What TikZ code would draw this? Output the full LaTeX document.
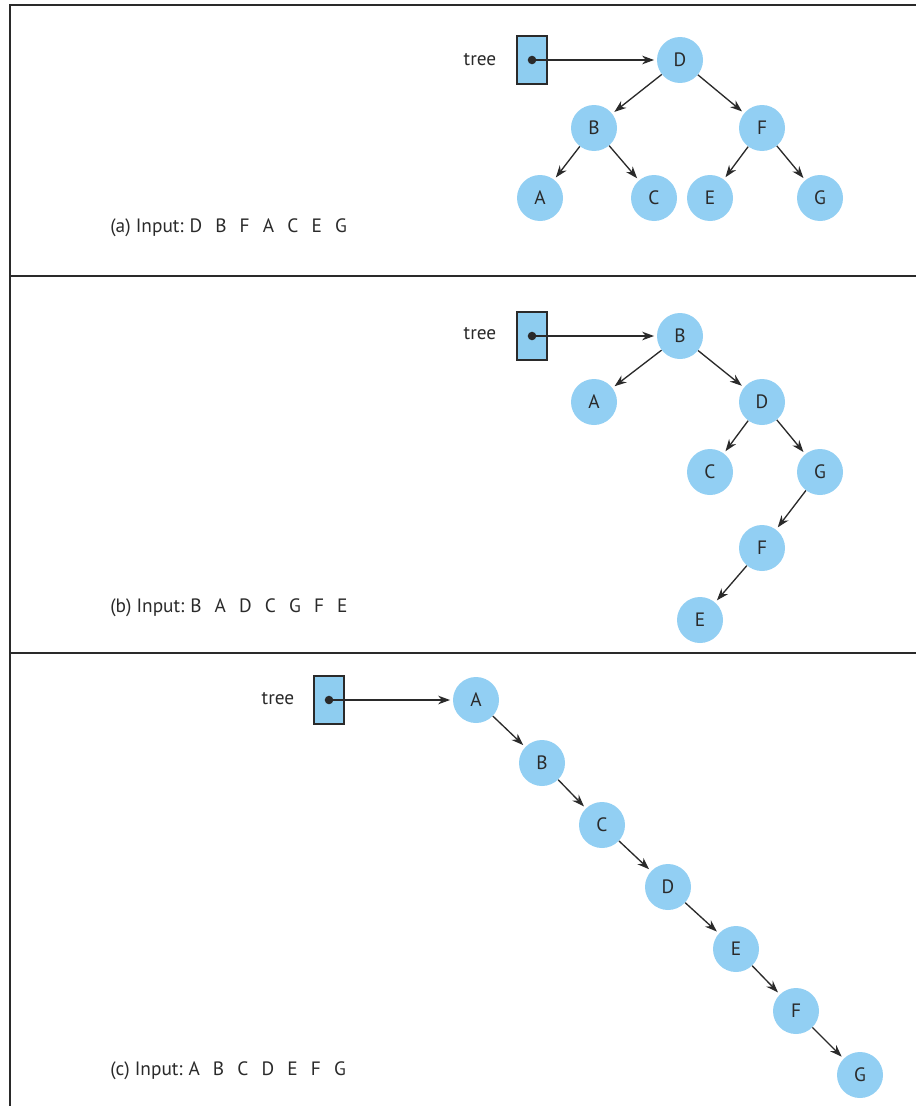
\documentclass[tikz,border=0pt]{standalone}
\usepackage{fontspec}
\setmainfont{PT Sans}
\usetikzlibrary{arrows.meta}
\definecolor{nodeblue}{HTML}{92CFF3}
\definecolor{boxblue}{HTML}{8ECDF0}
\definecolor{ink}{HTML}{2A2A2A}
\newlength{\pxu}\setlength{\pxu}{0.75pt}
\newcommand{\gp}{\hspace{0.68em}}
\tikzset{
  tn/.style={circle, fill=nodeblue, minimum size=46\pxu, inner sep=0pt, font=\fontsize{14.5}{16}\selectfont, text=ink},
  ptrbox/.style={draw=ink, line width=1.8pt, fill=boxblue, minimum width=30\pxu, minimum height=48\pxu, inner sep=0pt},
  edge/.style={-{Stealth[length=9pt,width=6.5pt]}, ink, line width=1pt, shorten >=2pt},
  frame/.style={draw=ink, line width=2.2pt},
  lbl/.style={font=\fontsize{14.5}{17}\selectfont, text=ink, anchor=west, inner sep=0pt},
}
\begin{document}
\begin{tikzpicture}[x=0.75pt,y=-0.75pt]
\useasboundingbox (0,0) rectangle (916,1106);
% frame
\draw[frame] (916,5) -- (10,5) -- (10,1106);
\draw[frame] (10,276) -- (916,276);
\draw[frame] (10,653) -- (916,653);

% ---- panel a
\node[ptrbox] (pa) at (532,60) {};
\fill[ink] (pa.center) circle (3.2pt);
\coordinate (pac) at (532,60);
\node[lbl, anchor=center] (ta) at (480,60) {tree};
\node[tn] (aD) at (680,60) {D};
\node[tn] (aB) at (594,128) {B};
\node[tn] (aF) at (762,128) {F};
\node[tn] (aA) at (540,198) {A};
\node[tn] (aC) at (654,198) {C};
\node[tn] (aE) at (710,198) {E};
\node[tn] (aG) at (820,198) {G};
\draw[edge] (pac) -- (aD);
\draw[edge] (aD) -- (aB);
\draw[edge] (aD) -- (aF);
\draw[edge] (aB) -- (aA);
\draw[edge] (aB) -- (aC);
\draw[edge] (aF) -- (aE);
\draw[edge] (aF) -- (aG);
\node[lbl] (la) at (110,228) {(a) Input:\hspace{0.3em}D\gp B\gp F\gp A\gp C\gp E\gp G};

% ---- panel b
\node[ptrbox] (pb) at (532,336) {};
\fill[ink] (pb.center) circle (3.2pt);
\coordinate (pbc) at (532,336);
\node[lbl, anchor=center] (tb) at (480,334) {tree};
\node[tn] (bB) at (680,336) {B};
\node[tn] (bA) at (594,402) {A};
\node[tn] (bD) at (762,402) {D};
\node[tn] (bC) at (710,472) {C};
\node[tn] (bG) at (820,472) {G};
\node[tn] (bF) at (762,548) {F};
\node[tn] (bE) at (700,620) {E};
\draw[edge] (pbc) -- (bB);
\draw[edge] (bB) -- (bA);
\draw[edge] (bB) -- (bD);
\draw[edge] (bD) -- (bC);
\draw[edge] (bD) -- (bG);
\draw[edge] (bG) -- (bF);
\draw[edge] (bF) -- (bE);
\node[lbl] (lb) at (110,608) {(b) Input:\hspace{0.3em}B\gp A\gp D\gp C\gp G\gp F\gp E};

% ---- panel c
\node[ptrbox] (pc) at (329,700) {};
\fill[ink] (pc.center) circle (3.2pt);
\coordinate (pcc) at (329,700);
\node[lbl, anchor=center] (tc) at (278,699) {tree};
\node[tn] (cA) at (476,700) {A};
\node[tn] (cB) at (542,763) {B};
\node[tn] (cC) at (602,825) {C};
\node[tn] (cD) at (668,887) {D};
\node[tn] (cE) at (736,949) {E};
\node[tn] (cF) at (796,1011) {F};
\node[tn] (cG) at (860,1075) {G};
\draw[edge] (pcc) -- (cA);
\draw[edge] (cA) -- (cB);
\draw[edge] (cB) -- (cC);
\draw[edge] (cC) -- (cD);
\draw[edge] (cD) -- (cE);
\draw[edge] (cE) -- (cF);
\draw[edge] (cF) -- (cG);
\node[lbl] (lc) at (110,1071) {(c) Input:\hspace{0.3em}A\gp B\gp C\gp D\gp E\gp F\gp G};
\end{tikzpicture}
\end{document}
